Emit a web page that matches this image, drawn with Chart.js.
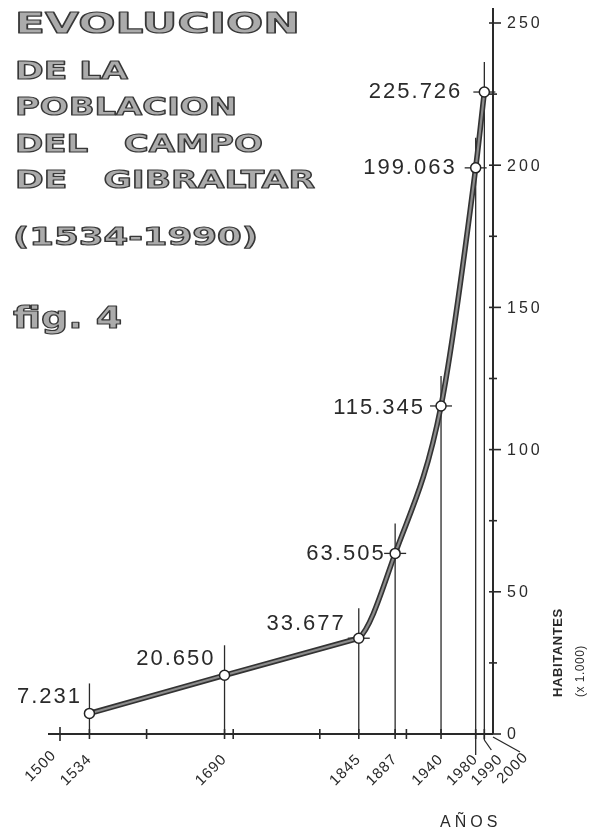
<!DOCTYPE html>
<html>
<head>
<meta charset="utf-8">
<script src="https://cdn.jsdelivr.net/npm/chart.js@4.4.1/dist/chart.umd.min.js"></script>
<style>
  html, body { margin: 0; padding: 0; background: #ffffff; }
  canvas { display: block; }
</style>
</head>
<body>
<canvas id="c" width="601" height="829"></canvas>
<script>
// ---------- data ----------
const years = [1534, 1690, 1845, 1887, 1940, 1980, 1990];
const population = [7.231, 20.650, 33.677, 63.505, 115.345, 199.063, 225.726]; // habitantes x 1.000
const populationLabels = ['7.231', '20.650', '33.677', '63.505', '115.345', '199.063', '225.726'];
const xTickValues = [1500, 1534, 1600, 1690, 1700, 1800, 1845, 1887, 1900, 1940, 1980, 1990, 2000];
const xTickLabels = ['1500', '1534', '', '1690', '', '', '1845', '1887', '', '1940', '1980', '1990', '2000'];
const yLabelValues = [0, 50, 100, 150, 200, 250];
const titleLines = ['EVOLUCION', 'DE LA', 'POBLACION', 'DEL   CAMPO', 'DE   GIBRALTAR', '(1534-1990)', 'fig. 4'];
const yAxisTitle = 'HABITANTES';
const yAxisUnit = '(x 1.000)';
const xAxisTitle = 'AÑOS';

// ---------- styles / layout ----------
const INK = '#2a2a2a';
const titleStyle = [ // x, baseline, font size, target width
  [15, 33, 29, 285],
  [15, 79, 25, 113],
  [15, 115, 25, 222],
  [15, 152, 25, 248],
  [15, 188, 25, 300],
  [13, 245, 25, 245],
  [13, 328, 30, 109]
];
const valueLabelOffset = [[-7.5, -10], [-9, -10], [-13, -8], [-9.5, 7], [-16, 8], [-19, 6.5], [-22, 6]];
const xLabelShift = { 1500: [-6, -4], 1990: [16, 0], 2000: [33, -2] };
const straightSegments = 2; // first segments drawn straight (1534-1690-1845)

const figurePlugin = {
  id: 'figure',
  beforeDatasetDraw(chart, args) {
    const meta = args.meta;
    if (!meta.dataset) return;
    meta.dataset.updateControlPoints(chart.chartArea, meta.iScale.axis);
    const pts = meta.data;
    for (let i = 0; i < straightSegments; i++) {
      pts[i].cp2x = pts[i].x; pts[i].cp2y = pts[i].y;
      pts[i + 1].cp1x = pts[i + 1].x; pts[i + 1].cp1y = pts[i + 1].y;
    }
  },
  beforeDatasetsDraw(chart) {
    const { ctx, chartArea: a } = chart;
    const x = chart.scales.x, y = chart.scales.y;
    const ln = (x1, y1, x2, y2) => { ctx.beginPath(); ctx.moveTo(x1, y1); ctx.lineTo(x2, y2); ctx.stroke(); };
    ctx.save();

    // title block (outlined letters)
    titleLines.forEach((t, i) => {
      const [tx, ty, fs, w] = titleStyle[i];
      ctx.save();
      ctx.font = 'bold ' + fs + 'px "DejaVu Sans"';
      ctx.textAlign = 'left';
      ctx.textBaseline = 'alphabetic';
      const m = ctx.measureText(t).width;
      const sx = w / m;
      ctx.translate(tx, ty);
      ctx.scale(sx, 1);
      ctx.fillStyle = '#ababab';
      ctx.fillText(t, 0, 0);
      ctx.strokeStyle = '#383838';
      ctx.lineWidth = 1.2;
      ctx.lineJoin = 'round';
      ctx.strokeText(t, 0, 0);
      ctx.restore();
    });

    ctx.strokeStyle = INK;
    ctx.fillStyle = INK;

    // axis lines
    ctx.lineWidth = 2;
    ln(a.left - 12, a.bottom, a.right, a.bottom);
    ln(a.right, a.top - 15, a.right, a.bottom);

    // y ticks + labels
    ctx.lineWidth = 1.6;
    ctx.font = '16px "Liberation Sans"';
    ctx.letterSpacing = '3px';
    ctx.textAlign = 'left';
    ctx.textBaseline = 'middle';
    y.ticks.forEach(t => {
      const py = y.getPixelForValue(t.value);
      const major = yLabelValues.includes(t.value);
      ln(a.right - 4, py, a.right + (major ? 8 : 4), py);
      if (major) ctx.fillText(String(t.value), a.right + 14, py + 1);
    });

    // x ticks + labels
    ctx.font = '15px "Liberation Sans"';
    ctx.letterSpacing = '1px';
    ctx.textAlign = 'right';
    ctx.textBaseline = 'middle';
    x.ticks.forEach(t => {
      const px = x.getPixelForValue(t.value);
      const h = t.value === 1500 ? 7 : 5;
      if (t.value !== 2000) ln(px, a.bottom - h, px, a.bottom + h);
      const idx = xTickValues.indexOf(t.value);
      const lab = idx >= 0 ? xTickLabels[idx] : '';
      if (lab) {
        const sh = xLabelShift[t.value] || [0, 0];
        ctx.save();
        ctx.translate(px + sh[0], a.bottom + 23 + sh[1]);
        ctx.rotate(-Math.PI / 4);
        ctx.fillText(lab, 0, 0);
        ctx.restore();
      }
    });

    // drop lines from each point + leaders
    ctx.lineWidth = 1.3;
    years.forEach((yr, i) => {
      const px = x.getPixelForValue(yr);
      const py = y.getPixelForValue(population[i]);
      let bottom = a.bottom;
      if (yr === 1980) bottom = a.bottom + 21;
      if (yr === 1990) bottom = a.bottom + 6;
      ln(px, py - 30, px, bottom);
      if (yr === 1990) ln(px, bottom, px + 7, a.bottom + 16);
      if (i >= 2) ln(px - 11, py, px + 11, py);
    });
    const p2000 = x.getPixelForValue(2000);
    ln(p2000, a.bottom + 3, p2000 + 27, a.bottom + 18);

    // axis titles
    ctx.letterSpacing = '4px';
    ctx.font = '16px "Liberation Sans"';
    ctx.textAlign = 'left';
    ctx.textBaseline = 'alphabetic';
    ctx.fillText(xAxisTitle, 440, 827);

    ctx.save();
    ctx.translate(562, 697);
    ctx.rotate(-Math.PI / 2);
    ctx.letterSpacing = '0.6px';
    ctx.font = 'bold 13px "Liberation Sans"';
    ctx.fillText(yAxisTitle, 0, 0);
    ctx.restore();

    ctx.save();
    ctx.translate(584, 697);
    ctx.rotate(-Math.PI / 2);
    ctx.letterSpacing = '0.5px';
    ctx.font = '12px "Liberation Sans"';
    ctx.fillText(yAxisUnit, 0, 0);
    ctx.restore();

    ctx.restore();
  },
  afterDatasetsDraw(chart) {
    const { ctx } = chart;
    const x = chart.scales.x, y = chart.scales.y;
    ctx.save();
    ctx.fillStyle = INK;
    ctx.font = '22px "Liberation Sans"';
    ctx.letterSpacing = '2px';
    ctx.textAlign = 'right';
    ctx.textBaseline = 'alphabetic';
    years.forEach((yr, i) => {
      const px = x.getPixelForValue(yr);
      const py = y.getPixelForValue(population[i]);
      const o = valueLabelOffset[i];
      ctx.fillText(populationLabels[i], px + o[0], py + o[1]);
    });
    ctx.restore();
  }
};

const points = years.map((yr, i) => ({ x: yr, y: population[i] }));

new Chart(document.getElementById('c'), {
  type: 'line',
  data: {
    datasets: [
      {
        data: points,
        borderColor: '#8c8c8c',
        borderWidth: 2.2,
        cubicInterpolationMode: 'monotone',
        pointRadius: 5,
        pointBackgroundColor: '#ffffff',
        pointBorderColor: '#222222',
        pointBorderWidth: 1.5,
        fill: false
      },
      {
        data: points,
        borderColor: '#333333',
        borderWidth: 5.5,
        cubicInterpolationMode: 'monotone',
        pointRadius: 0,
        fill: false
      }
    ]
  },
  options: {
    responsive: false,
    animation: false,
    devicePixelRatio: 1,
    layout: { padding: { left: 60, top: 23, right: 0, bottom: 0 } },
    plugins: { legend: { display: false }, tooltip: { enabled: false }, title: { display: false } },
    scales: {
      x: {
        type: 'linear',
        position: 'bottom',
        min: 1500,
        max: 2000,
        afterBuildTicks: s => { s.ticks = xTickValues.map(v => ({ value: v })); },
        afterFit: s => { s.height = 95; },
        grid: { display: false, drawTicks: false },
        border: { display: false },
        ticks: { display: false }
      },
      y: {
        type: 'linear',
        position: 'right',
        min: 0,
        max: 250,
        ticks: { display: false, stepSize: 25 },
        afterFit: s => { s.width = 108; },
        grid: { display: false, drawTicks: false },
        border: { display: false }
      }
    }
  },
  plugins: [figurePlugin]
});
</script>
</body>
</html>
